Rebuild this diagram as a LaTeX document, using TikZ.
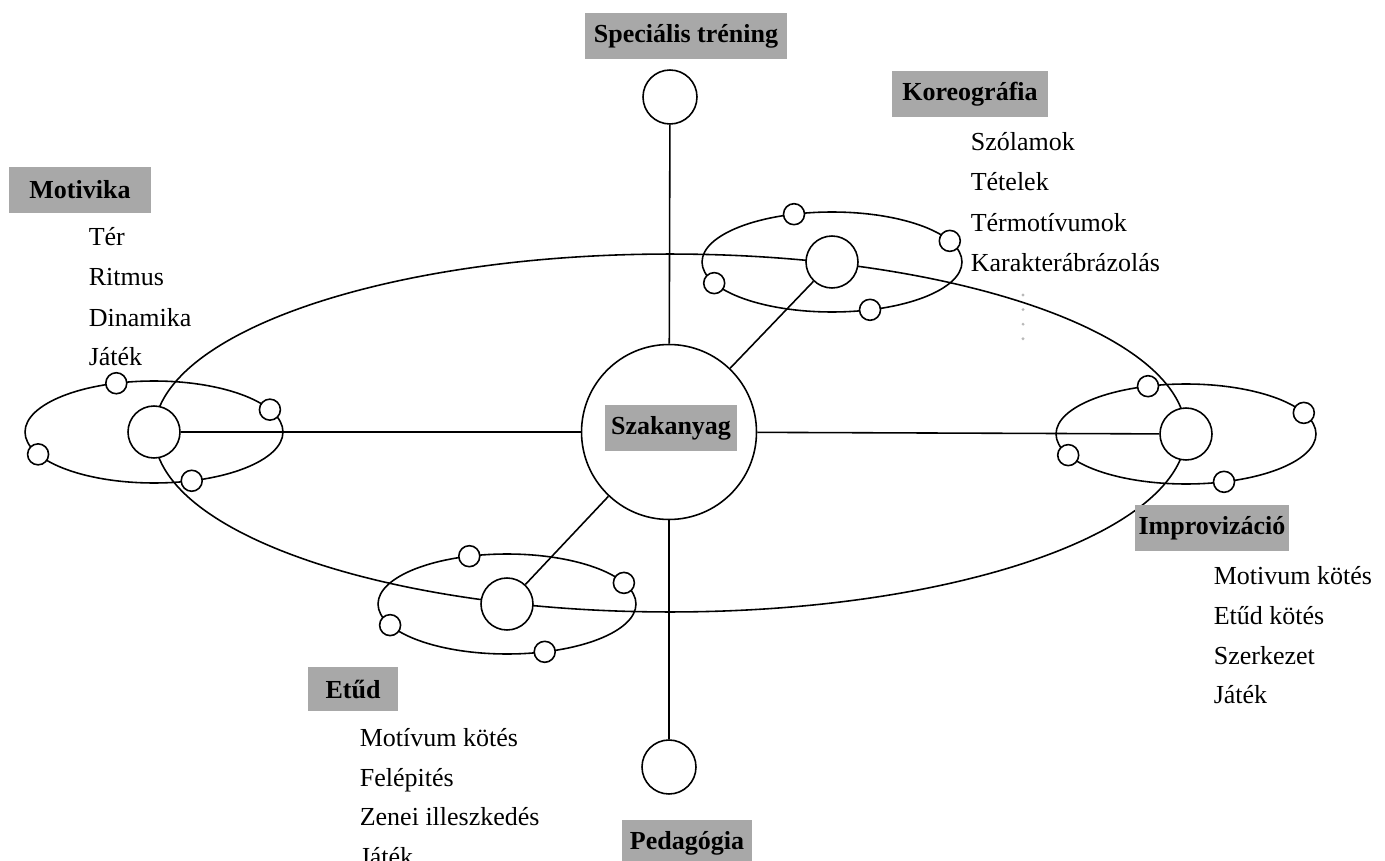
\documentclass[tikz,border=0pt]{standalone}
\usepackage{fontspec}
\setmainfont{Liberation Serif}
\usetikzlibrary{positioning}
\definecolor{labelgray}{RGB}{168,168,168}

\begin{document}
\begin{tikzpicture}[x=0.02cm,y=-0.02cm,line width=0.9pt,
    every node/.style={font=\fontsize{14.8}{18}\selectfont},
    tag/.style={fill=labelgray,font=\fontsize{14.8}{18}\selectfont\bfseries,minimum height=0.92cm,inner sep=0pt},
    item/.style={anchor=base west,inner sep=0pt},
    hub/.style={circle,draw,fill=white,minimum size=3.5cm,inner sep=0pt},
    planet/.style={circle,draw,fill=white,minimum size=1.04cm,inner sep=0pt},
    moon/.style={circle,draw,fill=white,minimum size=0.42cm,inner sep=0pt},
    pole/.style={circle,draw,fill=white,minimum size=1.08cm,inner sep=0pt}]
    \useasboundingbox (0,0) rectangle (1385,861);

    % the big orbit through the four systems
    \draw (670,433) ellipse [x radius=10.32cm, y radius=3.58cm];

    \begin{scope}[shift={(154,432)}]
    \draw (0,0) ellipse [x radius=2.58cm, y radius=1.02cm];
    \node[moon] (mot1) at (107:2.58cm and 1.02cm) {};
    \node[moon] (mot2) at (26:2.58cm and 1.02cm) {};
    \node[moon] (mot3) at (206:2.58cm and 1.02cm) {};
    \node[moon] (mot4) at (287:2.58cm and 1.02cm) {};
    \node[planet] (mot) at (0,0) {};
    \end{scope}

    \begin{scope}[shift={(832,262)}]
    \draw (0,0) ellipse [x radius=2.6cm, y radius=1cm];
    \node[moon] (kor1) at (107:2.6cm and 1cm) {};
    \node[moon] (kor2) at (25:2.6cm and 1cm) {};
    \node[moon] (kor3) at (205:2.6cm and 1cm) {};
    \node[moon] (kor4) at (287:2.6cm and 1cm) {};
    \node[planet] (kor) at (0,0) {};
    \end{scope}

    \begin{scope}[shift={(1186,434)}]
    \draw (0,0) ellipse [x radius=2.6cm, y radius=1cm];
    \node[moon] (imp1) at (107:2.6cm and 1cm) {};
    \node[moon] (imp2) at (25:2.6cm and 1cm) {};
    \node[moon] (imp3) at (205:2.6cm and 1cm) {};
    \node[moon] (imp4) at (287:2.6cm and 1cm) {};
    \node[planet] (imp) at (0,0) {};
    \end{scope}

    \begin{scope}[shift={(507,604)}]
    \draw (0,0) ellipse [x radius=2.58cm, y radius=1cm];
    \node[moon] (etu1) at (107:2.58cm and 1cm) {};
    \node[moon] (etu2) at (25:2.58cm and 1cm) {};
    \node[moon] (etu3) at (205:2.58cm and 1cm) {};
    \node[moon] (etu4) at (287:2.58cm and 1cm) {};
    \node[planet] (etu) at (0,0) {};
    \end{scope}

    \node[hub] (hub) at (669,432) {};
    \node[pole] (spec) at (670,97) {};
    \node[pole] (ped) at (669,767) {};

    \draw (hub) -- (spec);
    \draw (hub) -- (ped);
    \draw (hub) -- (mot);
    \draw (hub) -- (kor);
    \draw (hub) -- (imp);
    \draw (hub) -- (etu);

    \node[tag,minimum width=2.64cm] (hub-tag) at (671,428) {Szakanyag};
    \node[tag,minimum width=4.04cm] (spec-tag) at (686,36) {Speciális tréning};
    \node[tag,minimum width=3.12cm] (kor-tag) at (970,94) {Koreográfia};
    \node[tag,minimum width=2.86cm] (mot-tag) at (80,190) {Motivika};
    \node[tag,minimum width=3.08cm] (imp-tag) at (1212,528) {Improvizáció};
    \node[tag,minimum width=1.8cm,minimum height=0.88cm] (etu-tag) at (353,689) {Etűd};
    \node[tag,minimum width=2.6cm] (ped-tag) at (687,843) {Pedagógia};

    % Motivika
    \node[item] (mot-a) at (88,246) {Tér};
    \node[item] (mot-b) at (88,286) {Ritmus};
    \node[item] (mot-c) at (88,326) {Dinamika};
    \node[item] (mot-d) at (88,365) {Játék};
    % Koreografia
    \node[item] (kor-a) at (970,151) {Szólamok};
    \node[item] (kor-b) at (970,191) {Tételek};
    \node[item] (kor-c) at (970,232) {Térmotívumok};
    \node[item] (kor-d) at (970,272) {Karakterábrázolás};
    \coordinate (kor-dots1) at (1023,295);
    \coordinate (kor-dots2) at (1023,339);
    \draw[gray!55,line width=1.8pt,line cap=round,dash pattern=on 0pt off 8.3pt] (kor-dots1) -- (kor-dots2);
    % Improvizacio
    \node[item] (imp-a) at (1213,584) {Motivum kötés};
    \node[item] (imp-b) at (1213,624) {Etűd kötés};
    \node[item] (imp-c) at (1213,664) {Szerkezet};
    \node[item] (imp-d) at (1213,703) {Játék};
    % Etud
    \node[item] (etu-a) at (359,746) {Motívum kötés};
    \node[item] (etu-b) at (359,786) {Felépités};
    \node[item] (etu-c) at (359,825) {Zenei illeszkedés};
    \node[item] (etu-d) at (359,865) {Játék};
\end{tikzpicture}
\end{document}
